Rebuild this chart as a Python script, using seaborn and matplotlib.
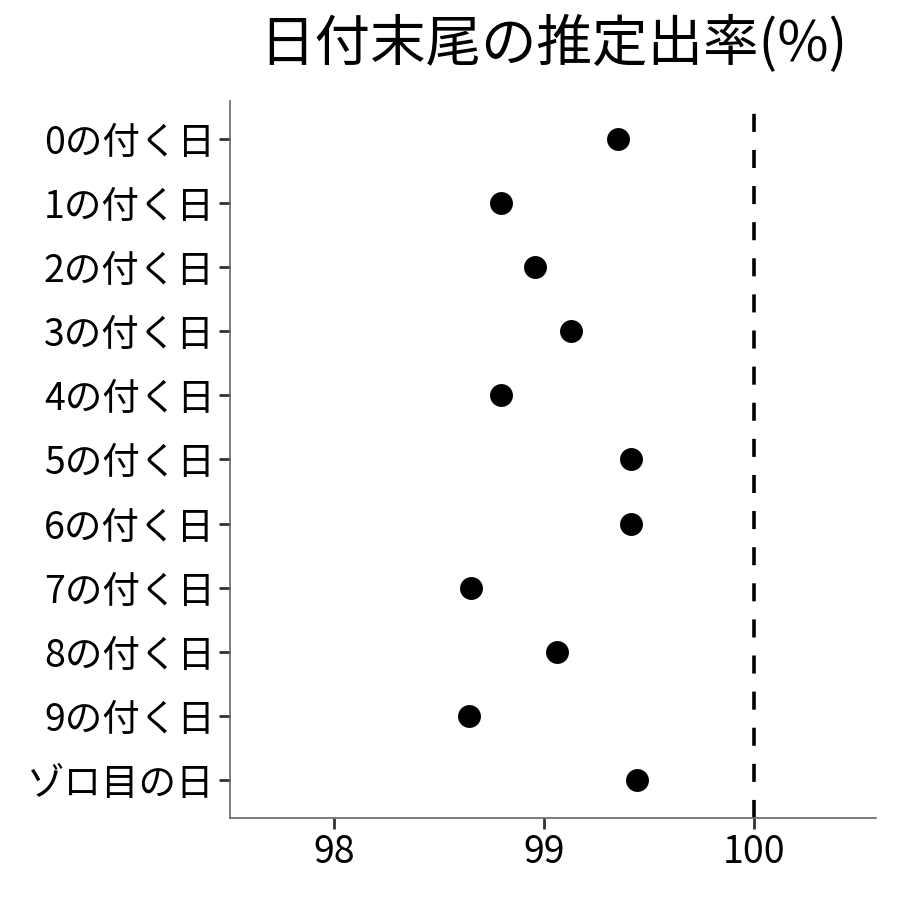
import matplotlib
matplotlib.use("Agg")
import matplotlib.pyplot as plt
import pandas as pd
import seaborn as sns

labels = ["0の付く日", "1の付く日", "2の付く日", "3の付く日", "4の付く日",
          "5の付く日", "6の付く日", "7の付く日", "8の付く日", "9の付く日",
          "ゾロ目の日"]
rates = [99.35, 98.795, 98.957, 99.129, 98.795, 99.414, 99.414,
         98.652, 99.062, 98.643, 99.443]
x_ticks = [98, 99, 100]
reference = 100

df = pd.DataFrame({"label": labels, "rate": rates})

sns.set_style("ticks")
plt.rcParams["font.family"] = ["Noto Sans CJK JP", "DejaVu Sans"]

fig = plt.figure(figsize=(9, 9), dpi=100)
ax = fig.add_axes([0.2556, 0.0911, 0.7178, 0.7967])

sns.stripplot(data=df, x="rate", y="label", order=labels, jitter=False,
              color="black", size=16.5, linewidth=0, ax=ax)
ax.axvline(reference, color="black", lw=2.6, linestyle=(0, (5, 5)))

ax.set_xlim(97.505, 100.58)
ax.set_ylim(10.6, -0.6)
ax.set_xticks(x_ticks)
ax.set_xticklabels([str(t) for t in x_ticks])
ax.set_xlabel("")
ax.set_ylabel("")
ax.tick_params(axis="both", labelsize=27, length=8, width=2, color="#333333",
               labelcolor="black", pad=3)
for side in ["top", "right"]:
    ax.spines[side].set_visible(False)
for side in ["left", "bottom"]:
    ax.spines[side].set_color("#666666")
    ax.spines[side].set_linewidth(1.2)

fig.text(0.615, 0.95, "日付末尾の推定出率(%)", fontsize=40, color="black",
         ha="center", va="center")

fig.savefig("out.png", dpi=100)
plt.close(fig)
